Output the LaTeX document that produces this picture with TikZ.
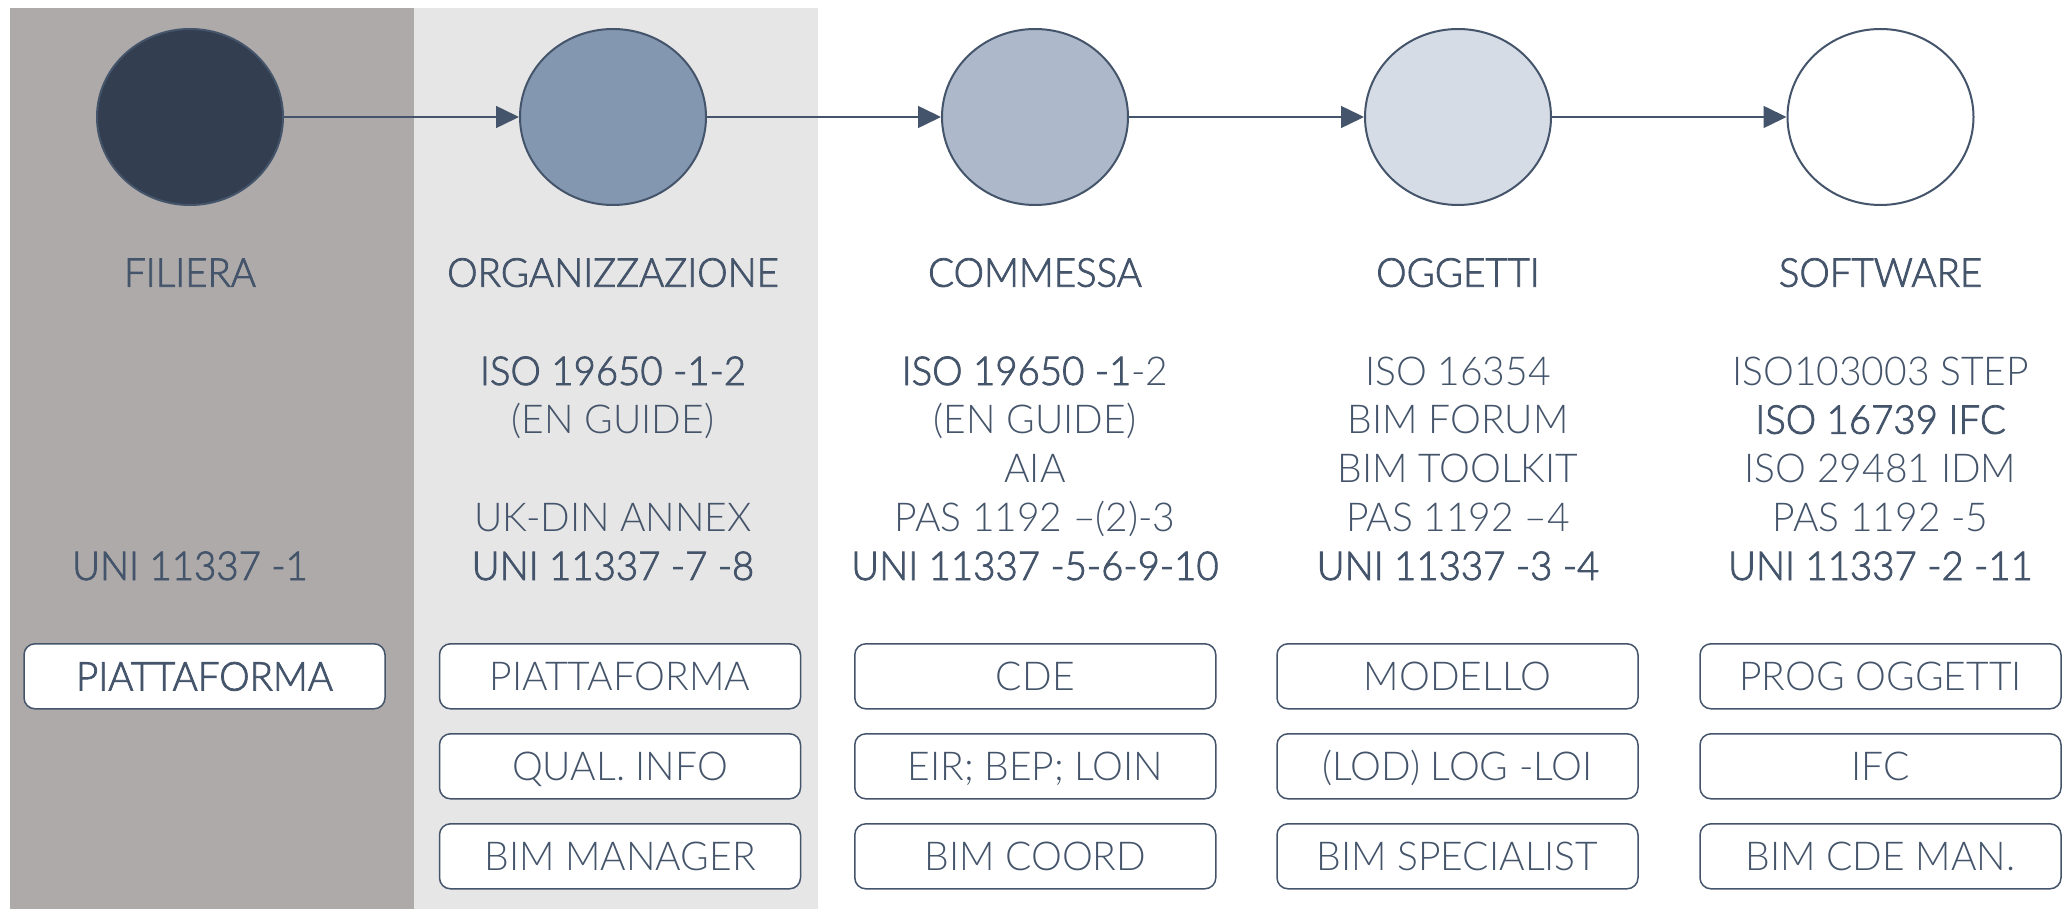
\documentclass[tikz,border=0pt]{standalone}
\usepackage{fontspec}
\setmainfont{Lato}
\newfontfamily\lightf{Lato Light}[FakeStretch=0.98]
\newfontfamily\regf{Lato Light}[FakeStretch=0.965, FakeBold=2]
\usetikzlibrary{arrows.meta,shapes.geometric}
\definecolor{ink}{HTML}{44546A}
\definecolor{panelA}{HTML}{AEAAAA}
\definecolor{panelB}{HTML}{E7E6E6}
\definecolor{fillA}{HTML}{333F50}
\definecolor{fillB}{HTML}{8497B0}
\definecolor{fillC}{HTML}{ADB9CA}
\definecolor{fillD}{HTML}{D6DCE5}
\newcommand{\fsz}{\fontsize{39.8}{48}\selectfont}
\tikzset{
  lbl/.style={anchor=base, inner sep=0pt, text=ink, font=\lightf\fsz},
  lblr/.style={anchor=base, inner sep=0pt, text=ink, font=\regf\fsz},
  circ/.style={ellipse, draw=ink, line width=2pt, minimum width=186pt, minimum height=176pt, inner sep=0pt},
  bx/.style={rectangle, draw=ink, line width=1.5pt, rounded corners=11pt, fill=white,
    minimum width=361pt, minimum height=65pt, inner sep=0pt, text=ink,
    text height=28.5pt, text depth=0pt, font=\lightf\fsz},
  bxr/.style={bx, font=\regf\fsz},
  conn/.style={draw=ink, line width=1.5pt, -{Triangle[length=23pt,width=22pt]}},
}
\begin{document}
\begin{tikzpicture}[x=1pt,y=-1pt]
\useasboundingbox (0,0) rectangle (2067,909);
\fill[white] (0,0) rectangle (2067,909);
\fill[panelA] (10,8) rectangle (414,909);
\fill[panelB] (414,8) rectangle (818,909);

% circles
\node[circ, fill=fillA] (e1) at (190,117) {};
\node[circ, fill=fillB] (e2) at (613,117) {};
\node[circ, fill=fillC] (e3) at (1035,117) {};
\node[circ, fill=fillD] (e4) at (1458,117) {};
\node[circ, fill=white] (e5) at (1880.5,117) {};
\draw[conn] (e1) -- (e2);
\draw[conn] (e2) -- (e3);
\draw[conn] (e3) -- (e4);
\draw[conn] (e4) -- (e5);

% headings
\node[lblr] (h1) at (190,286.7) {FILIERA};
\node[lblr] (h2) at (613,286.7) {ORGANIZZAZIONE};
\node[lblr] (h3) at (1035,286.7) {COMMESSA};
\node[lblr] (h4) at (1458,286.7) {OGGETTI};
\node[lblr] (h5) at (1880.5,286.7) {SOFTWARE};

% column 1
\node[lblr] (c1u) at (190,580) {UNI 11337 -1};

% column 2
\node[lblr] (c2a) at (613,385) {ISO 19650 -1-2};
\node[lbl] (c2b) at (613,433.75) {(EN GUIDE)};
\node[lbl] (c2d) at (613,531.25) {UK-DIN ANNEX};
\node[lblr] (c2u) at (613,580) {UNI 11337 -7 -8};

% column 3
\node[lbl] (c3a) at (1035,385) {{\regf ISO 19650 -1}-2};
\node[lbl] (c3b) at (1035,433.75) {(EN GUIDE)};
\node[lbl] (c3c) at (1035,482.5) {AIA};
\node[lbl] (c3d) at (1035,531.25) {PAS 1192 –(2)-3};
\node[lblr] (c3u) at (1035,580) {UNI 11337 -5-6-9-10};

% column 4
\node[lbl] (c4a) at (1458,385) {ISO 16354};
\node[lbl] (c4b) at (1458,433.75) {BIM FORUM};
\node[lbl] (c4c) at (1458,482.5) {BIM TOOLKIT};
\node[lbl] (c4d) at (1458,531.25) {PAS 1192 –4};
\node[lblr] (c4u) at (1458,580) {UNI 11337 -3 -4};

% column 5
\node[lbl] (c5a) at (1880.5,385) {ISO103003 STEP};
\node[lblr] (c5b) at (1880.5,433.75) {ISO 16739 IFC};
\node[lbl] (c5c) at (1880.5,482.5) {ISO 29481 IDM};
\node[lbl] (c5d) at (1880.5,531.25) {PAS 1192 -5};
\node[lblr] (c5u) at (1880.5,580) {UNI 11337 -2 -11};

% boxes
\node[bxr] (b11) at (204.5,676.3) {PIATTAFORMA};

\node[bx] (b21) at (620,676.3) {PIATTAFORMA};
\node[bx] (b22) at (620,766.3) {QUAL. INFO};
\node[bx] (b23) at (620,856.3) {BIM MANAGER};

\node[bx] (b31) at (1035.3,676.3) {CDE};
\node[bx] (b32) at (1035.3,766.3) {EIR; BEP; LOIN};
\node[bx] (b33) at (1035.3,856.3) {BIM COORD};

\node[bx] (b41) at (1457.5,676.3) {MODELLO};
\node[bx] (b42) at (1457.5,766.3) {(LOD) LOG -LOI};
\node[bx] (b43) at (1457.5,856.3) {BIM SPECIALIST};

\node[bx] (b51) at (1880.5,676.3) {PROG OGGETTI};
\node[bx] (b52) at (1880.5,766.3) {IFC};
\node[bx] (b53) at (1880.5,856.3) {BIM CDE MAN.};
\end{tikzpicture}
\end{document}
